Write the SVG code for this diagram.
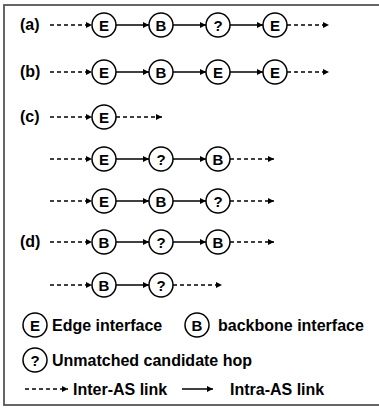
<svg xmlns="http://www.w3.org/2000/svg" width="379" height="410" viewBox="0 0 379 410">
<defs>
<marker id="ah" viewBox="0 0 10 10" refX="10" refY="5" markerWidth="6.5" markerHeight="6.5" markerUnits="userSpaceOnUse" orient="auto"><path d="M0,0 L10,5 L0,10 z" fill="#000"/></marker>
</defs>
<style>
.n circle{fill:#fff;stroke:#000;stroke-width:1.5}
.n text{font-family:"Liberation Sans",Arial,sans-serif;font-weight:bold;font-size:15px;text-anchor:middle}
.t{font-family:"Liberation Sans",Arial,sans-serif;font-weight:bold;font-size:16px}
.d{stroke:#000;stroke-width:1.5;stroke-dasharray:4,3;fill:none;marker-end:url(#ah)}
.s{stroke:#000;stroke-width:1.5;fill:none;marker-end:url(#ah)}
</style>
<rect x="4" y="5" width="380" height="400" fill="#fff" stroke="#555" stroke-width="1.8"/>
<g id="labels">
<text class="t" x="20" y="30">(a)</text>
<text class="t" x="20" y="77">(b)</text>
<text class="t" x="20" y="122">(c)</text>
<text class="t" x="20" y="247">(d)</text>
</g>
<g id="connectors">
<line class="d" x1="50" y1="25" x2="92" y2="25"/>
<line class="s" x1="116" y1="25" x2="149" y2="25"/>
<line class="s" x1="173" y1="25" x2="206" y2="25"/>
<line class="s" x1="230" y1="25" x2="263" y2="25"/>
<line class="d" x1="287" y1="25" x2="329" y2="25"/>
<line class="d" x1="50" y1="72" x2="92" y2="72"/>
<line class="s" x1="116" y1="72" x2="149" y2="72"/>
<line class="s" x1="173" y1="72" x2="206" y2="72"/>
<line class="s" x1="230" y1="72" x2="263" y2="72"/>
<line class="d" x1="287" y1="72" x2="329" y2="72"/>
<line class="d" x1="50" y1="117" x2="92" y2="117"/>
<line class="d" x1="116" y1="117" x2="162" y2="117"/>
<line class="d" x1="50" y1="159" x2="92" y2="159"/>
<line class="s" x1="116" y1="159" x2="149" y2="159"/>
<line class="s" x1="173" y1="159" x2="206" y2="159"/>
<line class="d" x1="230" y1="159" x2="274" y2="159"/>
<line class="d" x1="50" y1="201" x2="92" y2="201"/>
<line class="s" x1="116" y1="201" x2="149" y2="201"/>
<line class="s" x1="173" y1="201" x2="206" y2="201"/>
<line class="d" x1="230" y1="201" x2="274" y2="201"/>
<line class="d" x1="50" y1="242" x2="92" y2="242"/>
<line class="s" x1="116" y1="242" x2="149" y2="242"/>
<line class="s" x1="173" y1="242" x2="206" y2="242"/>
<line class="d" x1="230" y1="242" x2="274" y2="242"/>
<line class="d" x1="50" y1="285" x2="92" y2="285"/>
<line class="s" x1="116" y1="285" x2="149" y2="285"/>
<line class="d" x1="173" y1="285" x2="222" y2="285"/>
<line class="d" x1="25" y1="389" x2="68" y2="389"/>
<line class="s" x1="182" y1="389" x2="213" y2="389"/>
</g>
<g id="a1" class="n"><circle cx="104" cy="25" r="12"/><text x="104" y="30.5">E</text></g>
<g id="a2" class="n"><circle cx="161" cy="25" r="12"/><text x="161" y="30.5">B</text></g>
<g id="a3" class="n"><circle cx="218" cy="25" r="12"/><text x="218" y="30.5">?</text></g>
<g id="a4" class="n"><circle cx="275" cy="25" r="12"/><text x="275" y="30.5">E</text></g>
<g id="b1" class="n"><circle cx="104" cy="72" r="12"/><text x="104" y="77.5">E</text></g>
<g id="b2" class="n"><circle cx="161" cy="72" r="12"/><text x="161" y="77.5">B</text></g>
<g id="b3" class="n"><circle cx="218" cy="72" r="12"/><text x="218" y="77.5">E</text></g>
<g id="b4" class="n"><circle cx="275" cy="72" r="12"/><text x="275" y="77.5">E</text></g>
<g id="c1" class="n"><circle cx="104" cy="117" r="12"/><text x="104" y="122.5">E</text></g>
<g id="c2a" class="n"><circle cx="104" cy="159" r="12"/><text x="104" y="164.5">E</text></g>
<g id="c2b" class="n"><circle cx="161" cy="159" r="12"/><text x="161" y="164.5">?</text></g>
<g id="c2c" class="n"><circle cx="218" cy="159" r="12"/><text x="218" y="164.5">B</text></g>
<g id="c3a" class="n"><circle cx="104" cy="201" r="12"/><text x="104" y="206.5">E</text></g>
<g id="c3b" class="n"><circle cx="161" cy="201" r="12"/><text x="161" y="206.5">B</text></g>
<g id="c3c" class="n"><circle cx="218" cy="201" r="12"/><text x="218" y="206.5">?</text></g>
<g id="d1a" class="n"><circle cx="104" cy="242" r="12"/><text x="104" y="247.5">B</text></g>
<g id="d1b" class="n"><circle cx="161" cy="242" r="12"/><text x="161" y="247.5">?</text></g>
<g id="d1c" class="n"><circle cx="218" cy="242" r="12"/><text x="218" y="247.5">B</text></g>
<g id="d2a" class="n"><circle cx="104" cy="285" r="12"/><text x="104" y="290.5">B</text></g>
<g id="d2b" class="n"><circle cx="161" cy="285" r="12"/><text x="161" y="290.5">?</text></g>
<g id="legend">
<g id="lgE" class="n"><circle cx="35" cy="325" r="12"/><text x="35" y="330.5">E</text></g>
<text class="t" x="52" y="331">Edge interface</text>
<g id="lgB" class="n"><circle cx="197" cy="325" r="12"/><text x="197" y="330.5">B</text></g>
<text class="t" x="218" y="331">backbone interface</text>
<g id="lgQ" class="n"><circle cx="35" cy="360" r="12"/><text x="35" y="365.5">?</text></g>
<text class="t" x="52" y="366">Unmatched candidate hop</text>
<text class="t" x="73" y="395">Inter-AS link</text>
<text class="t" x="230" y="395">Intra-AS link</text>
</g>
</svg>
